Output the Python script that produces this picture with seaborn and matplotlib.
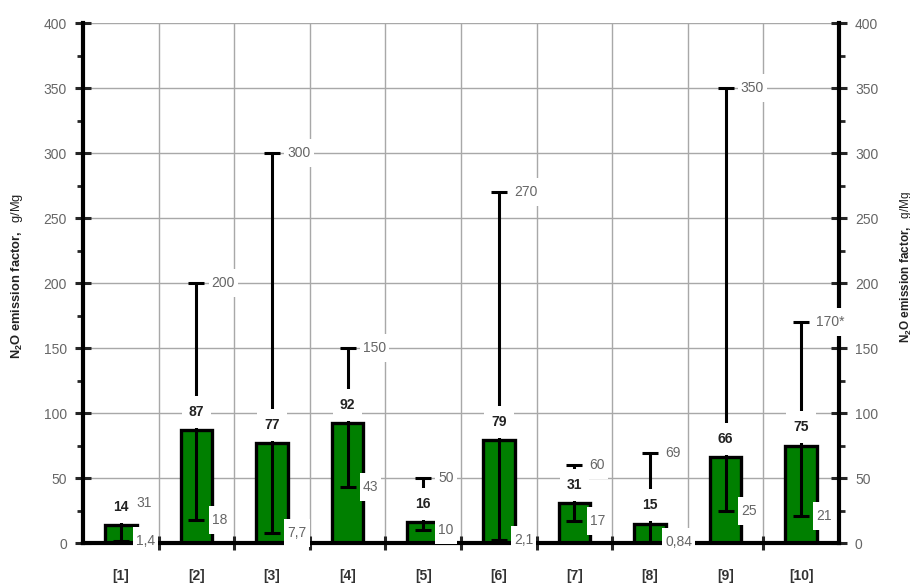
import matplotlib
matplotlib.use("Agg")
import matplotlib.pyplot as plt
from matplotlib.path import Path
from matplotlib.ticker import MultipleLocator, FixedLocator
import numpy as np
import pandas as pd
import seaborn as sns

# Data: N2O emission factors per source (mean, minimum, maximum), g/Mg
sources = ["[1]", "[2]", "[3]", "[4]", "[5]", "[6]", "[7]", "[8]", "[9]", "[10]"]
mean_vals = [14, 87, 77, 92, 16, 79, 31, 15, 66, 75]
min_vals = [1.4, 18, 7.7, 43, 10, 2.1, 17, 0.84, 25, 21]
max_vals = [31, 200, 300, 150, 50, 270, 60, 69, 350, 170]
max_marks = ["", "", "", "", "", "", "", "", "", "*"]
y_ticks = [0, 50, 100, 150, 200, 250, 300, 350, 400]

sns.set_style("white")
plt.rcParams["font.family"] = ["Liberation Sans", "DejaVu Sans"]
plt.rcParams["mathtext.fontset"] = "custom"
plt.rcParams["mathtext.rm"] = "Liberation Sans"
plt.rcParams["mathtext.bf"] = "Liberation Sans:bold"
plt.rcParams["mathtext.it"] = "Liberation Sans:italic"

df = pd.DataFrame({"source": sources, "mean": mean_vals,
                   "low": min_vals, "high": max_vals})

fig = plt.figure(figsize=(9.1, 5.83), dpi=100)
ax = fig.add_axes([0.0912, 0.0686, 0.8308, 0.8919])

sns.barplot(data=df, x="source", y="mean", color="#007f00", saturation=1,
            edgecolor="black", linewidth=2.4, width=0.42, errorbar=None,
            ax=ax, zorder=3)

x = np.arange(len(sources))
mean_arr = np.array(mean_vals, dtype=float)
ax.errorbar(x, mean_arr,
            yerr=[mean_arr - np.array(min_vals), np.array(max_vals) - mean_arr],
            fmt="none", ecolor="black", elinewidth=2.2, capsize=6,
            capthick=2.2, zorder=4)


def fmt(v):
    return f"{v:g}".replace(".", ",")


def white_box(padx, pady):
    """Rectangular label background with separate horizontal/vertical padding (px)."""
    def style(x0, y0, width, height, mutation_size):
        x1, y1 = x0 - padx, y0 - pady
        x2, y2 = x0 + width + padx, y0 + height + pady
        return Path([(x1, y1), (x2, y1), (x2, y2), (x1, y2), (x1, y1)],
                    closed=True)
    return dict(boxstyle=style, fc="white", ec="none")


mean_box = white_box(7, 9)
side_box = white_box(3, 7)
for i in range(len(sources)):
    ax.annotate(fmt(mean_vals[i]), (i, mean_vals[i]), xytext=(0, 13),
                textcoords="offset points", ha="center", va="center",
                fontsize=10, fontweight="bold", color="#222222",
                bbox=mean_box, zorder=6)
    ax.annotate(fmt(max_vals[i]) + max_marks[i], (i, max_vals[i]),
                xytext=(11, 0), textcoords="offset points", ha="left",
                va="center", fontsize=10, color="#666666", bbox=side_box,
                zorder=6)
    ax.annotate(fmt(min_vals[i]), (i, min_vals[i]), xytext=(11, 0),
                textcoords="offset points", ha="left", va="center",
                fontsize=10, color="#666666", bbox=side_box, zorder=6)

ax.set_xlim(-0.5, len(sources) - 0.5)
ax.set_ylim(0, 400)
ax.yaxis.set_major_locator(FixedLocator(y_ticks))
ax.yaxis.set_minor_locator(MultipleLocator(25))
ax.xaxis.set_minor_locator(FixedLocator(np.arange(0.5, len(sources) - 0.5, 1)))

ax.set_axisbelow(True)
ax.grid(True, which="major", axis="y", color="#a8a8a8", linewidth=1)
ax.grid(True, which="minor", axis="x", color="#a8a8a8", linewidth=1)
ax.grid(False, which="major", axis="x")

for side in ["left", "right", "bottom"]:
    ax.spines[side].set_visible(True)
    ax.spines[side].set_color("black")
    ax.spines[side].set_linewidth(3)
    ax.spines[side].set_zorder(5)
ax.spines["top"].set_visible(False)

ax.tick_params(axis="y", which="major", left=True, right=True,
               labelleft=True, labelright=True, direction="inout",
               length=11, width=2.2, labelsize=10, labelcolor="#666666",
               pad=6)
ax.tick_params(axis="y", which="minor", left=True, right=True,
               direction="out", length=4.5, width=2)
ax.tick_params(axis="x", which="major", length=0, pad=19, labelsize=10,
               labelcolor="#333333")
ax.tick_params(axis="x", which="minor", bottom=True, direction="inout",
               length=9.5, width=2.2)
for lbl in ax.get_xticklabels():
    lbl.set_fontweight("bold")

ax.set_xlabel("")
ax.set_ylabel("")

fig.text(0.019, 0.527, r"$\mathbf{N_2O\ emission\ factor,}$  g/Mg",
         rotation=90, ha="center", va="center", fontsize=9.3, color="#222222")
fig.text(0.996, 0.542, r"$\mathbf{N_2O\ emission\ factor,}$  g/Mg",
         rotation=90, ha="center", va="center", fontsize=8.5, color="#222222")

fig.savefig("out.png", dpi=100)
